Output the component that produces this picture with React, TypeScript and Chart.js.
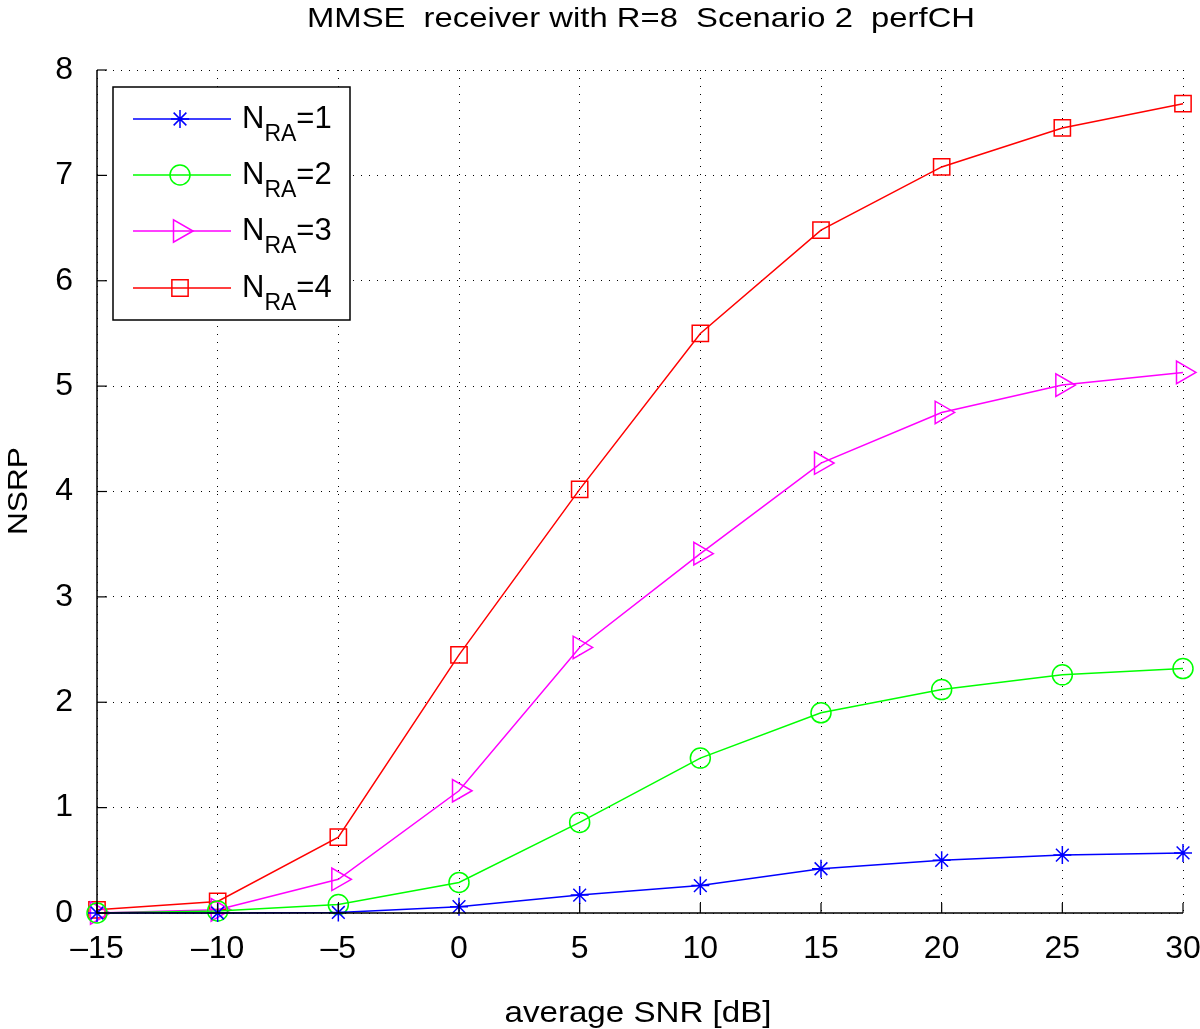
import React, { useEffect, useRef } from "react";
import { Chart, registerables } from "chart.js";
import { drawPoint } from "chart.js/helpers";

Chart.register(...registerables);

const snr = [-15, -10, -5, 0, 5, 10, 15, 20, 25, 30];
const nra1 = [0, 0, 0.005, 0.06, 0.17, 0.26, 0.42, 0.5, 0.55, 0.57];
const nra2 = [0, 0.02, 0.08, 0.29, 0.86, 1.47, 1.9, 2.12, 2.26, 2.32];
const nra3 = [0, 0.03, 0.32, 1.16, 2.52, 3.41, 4.27, 4.75, 5.01, 5.13];
const nra4 = [0.03, 0.11, 0.72, 2.45, 4.02, 5.5, 6.48, 7.08, 7.45, 7.68];
const seriesLabels = ["1", "2", "3", "4"];
const titleText = "MMSE  receiver with R=8  Scenario 2  perfCH";
const xTitle = "average SNR [dB]";
const yTitle = "NSRP";

const FONT = "'Liberation Sans', Arial, Helvetica, sans-serif";

const styles = [
  { color: "#0000ff", pointStyle: "star", radius: 9, rotation: 0 },
  { color: "#00ff00", pointStyle: "circle", radius: 10, rotation: 0 },
  { color: "#ff00ff", pointStyle: "triangle", radius: 13, rotation: 90 },
  { color: "#ff0000", pointStyle: "rect", radius: 11.5, rotation: 0 },
];

function fitText(ctx: any, text: string, x: number, y: number, width: number) {
  const w = ctx.measureText(text).width;
  ctx.save();
  ctx.translate(x, y);
  ctx.scale(width / w, 1);
  ctx.fillText(text, 0, 0);
  ctx.restore();
}

const frameAndLegend = {
  id: "frameAndLegend",
  afterDraw(chart: any) {
    const { ctx, chartArea } = chart;
    const { left, right, top, bottom } = chartArea;
    const xs = chart.scales.x;
    const ys = chart.scales.y;
    ctx.save();
    ctx.fillStyle = "#000";
    ctx.textAlign = "center";
    ctx.textBaseline = "alphabetic";
    // title
    ctx.font = `28px ${FONT}`;
    fitText(ctx, titleText, 641, 27, 668);
    // x title
    ctx.font = `29px ${FONT}`;
    fitText(ctx, xTitle, 638, 1022, 267);
    // y title
    ctx.save();
    ctx.translate(27, 491);
    ctx.rotate(-Math.PI / 2);
    ctx.font = `28px ${FONT}`;
    fitText(ctx, yTitle, 0, 0, 88);
    ctx.restore();
    // axis lines (left and bottom only)
    ctx.strokeStyle = "#000";
    ctx.lineWidth = 1.5;
    ctx.beginPath();
    ctx.moveTo(left, top);
    ctx.lineTo(left, bottom);
    ctx.lineTo(right, bottom);
    ctx.stroke();
    // inward ticks
    ctx.lineWidth = 1.2;
    const tl = 10;
    xs.ticks.forEach((t: any) => {
      const px = xs.getPixelForValue(t.value);
      ctx.beginPath();
      ctx.moveTo(px, bottom);
      ctx.lineTo(px, bottom - tl);
      ctx.stroke();
    });
    ys.ticks.forEach((t: any) => {
      const py = ys.getPixelForValue(t.value);
      ctx.beginPath();
      ctx.moveTo(left, py);
      ctx.lineTo(left + tl, py);
      ctx.stroke();
    });
    // legend
    const bx = 113, by = 87, bw = 237, bh = 233;
    ctx.fillStyle = "#fff";
    ctx.fillRect(bx, by, bw, bh);
    ctx.lineWidth = 1.5;
    ctx.strokeStyle = "#000";
    ctx.strokeRect(bx, by, bw, bh);
    const rows = [119, 175, 231, 288];
    styles.forEach((s, i) => {
      const y = rows[i];
      ctx.strokeStyle = s.color;
      ctx.lineWidth = 1.5;
      ctx.beginPath();
      ctx.moveTo(133, y);
      ctx.lineTo(231, y);
      ctx.stroke();
      ctx.fillStyle = "rgba(0,0,0,0)";
      drawPoint(ctx, { pointStyle: s.pointStyle as any, radius: s.radius, rotation: s.rotation, borderWidth: 1.5 } as any, 180, y);
      ctx.fillStyle = "#000";
      ctx.textAlign = "left";
      ctx.textBaseline = "alphabetic";
      ctx.font = `31px ${FONT}`;
      ctx.fillText("N", 242, y + 9);
      const nw = ctx.measureText("N").width;
      ctx.font = `23px ${FONT}`;
      ctx.fillText("RA", 242 + nw, y + 22);
      const rw = ctx.measureText("RA").width;
      ctx.font = `31px ${FONT}`;
      ctx.fillText("=" + seriesLabels[i], 242 + nw + rw, y + 9);
    });
    ctx.restore();
  },
};

export default function App() {
  const ref = useRef<HTMLCanvasElement>(null);
  useEffect(() => {
    document.body.style.margin = "0";
    const datasets = [nra1, nra2, nra3, nra4].map((arr, i) => ({
      label: "N_RA=" + seriesLabels[i],
      data: arr.map((v, j) => ({ x: snr[j], y: v })),
      borderColor: styles[i].color,
      backgroundColor: "rgba(0,0,0,0)",
      borderWidth: 1.5,
      pointStyle: styles[i].pointStyle as any,
      pointRadius: styles[i].radius,
      pointRotation: styles[i].rotation,
      pointBorderWidth: 1.5,
      pointBorderColor: styles[i].color,
      pointBackgroundColor: "rgba(0,0,0,0)",
      tension: 0,
      clip: false as any,
    }));
    const chart = new Chart(ref.current!, {
      type: "line",
      data: { datasets },
      plugins: [frameAndLegend],
      options: {
        animation: false,
        responsive: false,
        layout: { padding: { top: 70, right: 0, left: 0, bottom: 0 } },
        plugins: { legend: { display: false }, title: { display: false }, tooltip: { enabled: false } },
        scales: {
          x: {
            type: "linear",
            min: -15,
            max: 30,
            afterFit: (s: any) => {
              s.height = 116;
              s.paddingRight = 17;
              s.paddingLeft = 0;
            },
            ticks: {
              stepSize: 5,
              padding: 17,
              color: "#000",
              font: { family: FONT, size: 32 },
              callback: (v: any) => (Number(v) < 0 ? "\u2013" + Math.abs(Number(v)) : String(v)),
            },
            grid: { color: "#000", lineWidth: 1, drawTicks: false, tickLength: 0 },
            border: { display: false, dash: [1, 7] },
          },
          y: {
            type: "linear",
            min: 0,
            max: 8,
            afterFit: (s: any) => { s.width = 97; },
            ticks: { stepSize: 1, padding: 24, color: "#000", font: { family: FONT, size: 32 } },
            grid: { color: "#000", lineWidth: 1, drawTicks: false, tickLength: 0 },
            border: { display: false, dash: [1, 7] },
          },
        },
      },
    });
    return () => chart.destroy();
  }, []);
  return (
    <div style={{ position: "absolute", left: 0, top: 0, width: 1200, height: 1029 }}>
      <canvas ref={ref} width={1200} height={1029} style={{ width: 1200, height: 1029 }} />
    </div>
  );
}
